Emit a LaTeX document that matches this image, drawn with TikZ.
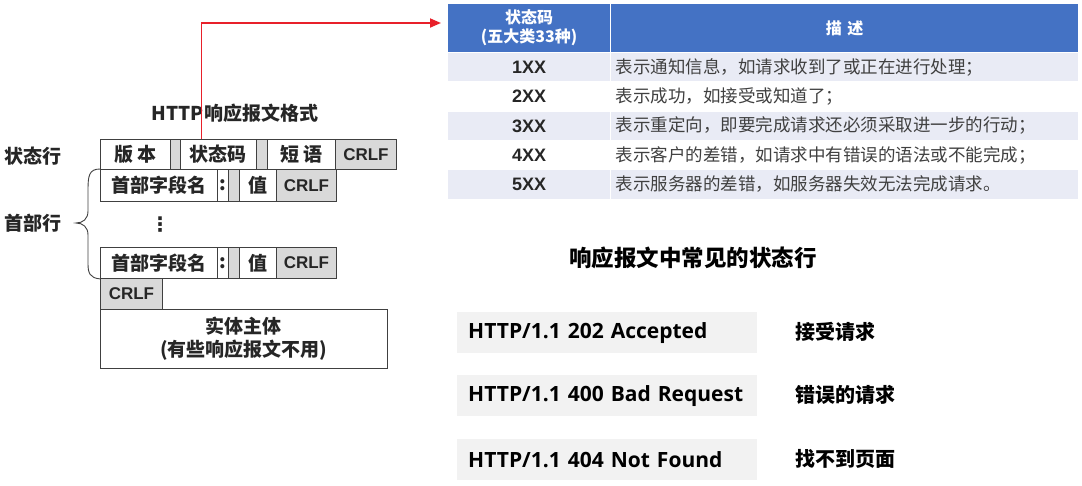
\documentclass[tikz,border=0pt]{standalone}
\usepackage{fontspec}
\setmainfont{Noto Sans CJK SC}
\newfontfamily\arialfont{Liberation Sans}
\newfontfamily\segoefont{Open Sans}
\newfontfamily\symfont{DejaVu Sans}
\usetikzlibrary{arrows.meta}
\definecolor{hdrblue}{HTML}{4472C4}
\definecolor{rowblue}{HTML}{E9EBF5}
\definecolor{cellgray}{HTML}{D9D9D9}
\definecolor{boxgray}{HTML}{F2F2F2}
\definecolor{linkred}{HTML}{E8202A}
\definecolor{inkgray}{HTML}{262626}
\begin{document}
\begin{tikzpicture}[x=1pt,y=-1pt,
  cell/.style={draw=black!75, line width=0.9pt, anchor=north west, inner sep=0pt, minimum height=30pt, text=inkgray, font=\fontsize{19}{22}\selectfont\bfseries},
  gapcell/.style={cell, fill=cellgray},
  crlfcell/.style={gapcell, font=\arialfont\fontsize{17}{20}\selectfont\bfseries},
  lab/.style={text=inkgray, font=\fontsize{19}{22}\selectfont\bfseries},
  thead/.style={anchor=north west, fill=hdrblue, draw=white, line width=1.2pt, inner sep=0pt, text=white, align=center, font=\fontsize{16}{19}\selectfont\bfseries},
  tcode/.style={anchor=north west, draw=white, line width=1.2pt, inner sep=0pt, minimum width=163pt, minimum height=29.3pt, text=inkgray, font=\arialfont\fontsize{18}{20}\selectfont\bfseries},
  tdesc/.style={anchor=north west, draw=white, line width=1.2pt, inner xsep=5pt, inner ysep=0pt, text width=458pt, align=left, minimum height=29.3pt, text=black!75, font=\fontsize{17.5}{20}\selectfont},
  sline/.style={anchor=north west, fill=boxgray, inner xsep=11pt, inner ysep=0pt, text width=278pt, align=left, minimum height=41pt, text=black, font=\segoefont\fontsize{21}{23}\selectfont\bfseries},
  mlab/.style={anchor=west, text=black, font=\fontsize{20}{22}\selectfont\bfseries}]
\useasboundingbox (0,0) rectangle (1082,485);

% response format
\node[lab] (title) at (235,113) {HTTP响应报文格式};
\node[lab] (slab) at (33,156) {状态行};
\node[lab] (hlab) at (33,223) {首部行};

\node[cell, minimum width=70pt] (ver) at (100,139) {版 本};
\node[gapcell, minimum width=10pt] (g1) at (170,139) {};
\node[cell, minimum width=76pt] (code) at (180,139) {状态码};
\node[gapcell, minimum width=11pt] (g2) at (256,139) {};
\node[cell, minimum width=68pt] (phr) at (267,139) {短 语};
\node[crlfcell, minimum width=61pt] (crlf1) at (335,139) {CRLF};

\node[cell, minimum width=117pt, minimum height=32pt] (name1) at (100,169) {首部字段名};
\node[cell, minimum width=11pt, minimum height=32pt] (col1) at (217,169) {:};
\node[gapcell, minimum width=11pt, minimum height=32pt] (g3) at (228,169) {};
\node[cell, minimum width=37pt, minimum height=32pt] (val1) at (239,169) {值};
\node[crlfcell, minimum width=60pt, minimum height=32pt] (crlf2) at (276,169) {CRLF};

\node[lab, font=\symfont\fontsize{20}{20}\selectfont\bfseries] (dots) at (160,225) {⋮};

\node[cell, minimum width=117pt, minimum height=31pt] (name3) at (100,247) {首部字段名};
\node[cell, minimum width=11pt, minimum height=31pt] (col3) at (217,247) {:};
\node[gapcell, minimum width=11pt, minimum height=31pt] (g4) at (228,247) {};
\node[cell, minimum width=37pt, minimum height=31pt] (val3) at (239,247) {值};
\node[crlfcell, minimum width=60pt, minimum height=31pt] (crlf3) at (276,247) {CRLF};

\node[crlfcell, minimum width=62pt, minimum height=31pt] (crlf4) at (100,278) {CRLF};
\node[cell, minimum width=287pt, minimum height=59pt, align=center, font=\fontsize{19}{23}\selectfont\bfseries] (body) at (100,309) {实体主体\\(有些响应报文不用)};

\draw[black!75, line width=0.9pt] (name1.north west) .. controls (89,169) and (88,176) .. (88,190) -- (88,211) .. controls (88,219) and (83,223) .. (76,223) .. controls (83,223) and (88,227) .. (88,235) -- (88,264) .. controls (88,273) and (90,278) .. (name3.south west);

% status code table
\node[thead, minimum width=163pt, minimum height=49pt] (hcode) at (447,3) {状态码\\(五大类33种)};
\node[thead, minimum width=468pt, minimum height=49pt] (hdesc) at (610,3) {描\,\,述};
\node[tcode, fill=rowblue] (c1) at (447,52) {1XX};
\node[tdesc, fill=rowblue] (d1) at (610,52) {表示通知信息，如请求收到了或正在进行处理；};
\node[tcode, fill=white] (c2) at (447,81.3) {2XX};
\node[tdesc, fill=white] (d2) at (610,81.3) {表示成功，如接受或知道了；};
\node[tcode, fill=rowblue] (c3) at (447,110.6) {3XX};
\node[tdesc, fill=rowblue] (d3) at (610,110.6) {表示重定向，即要完成请求还必须采取进一步的行动；};
\node[tcode, fill=white] (c4) at (447,139.9) {4XX};
\node[tdesc, fill=white] (d4) at (610,139.9) {表示客户的差错，如请求中有错误的语法或不能完成；};
\node[tcode, fill=rowblue] (c5) at (447,169.2) {5XX};
\node[tdesc, fill=rowblue] (d5) at (610,169.2) {表示服务器的差错，如服务器失效无法完成请求。};

\coordinate (rtip) at (441,23);
\draw[linkred, line width=1.8pt, -{Triangle[length=11pt,width=9pt]}] ([xshift=-17pt]code.north) |- (rtip);

% common status lines
\node[text=black, font=\fontsize{22.5}{24}\selectfont\bfseries] (ctitle) at (693,258) {响应报文中常见的状态行};
\node[sline] (s202) at (457,312) {HTTP/1.1 202 Accepted};
\node[mlab] (m202) at (792,332) {接受请求};
\node[sline] (s400) at (457,375) {HTTP/1.1 400 Bad Request};
\node[mlab] (m400) at (792,395) {错误的请求};
\node[sline] (s404) at (457,439) {HTTP/1.1 404 Not Found};
\node[mlab] (m404) at (792,459) {找不到页面};
\end{tikzpicture}
\end{document}
